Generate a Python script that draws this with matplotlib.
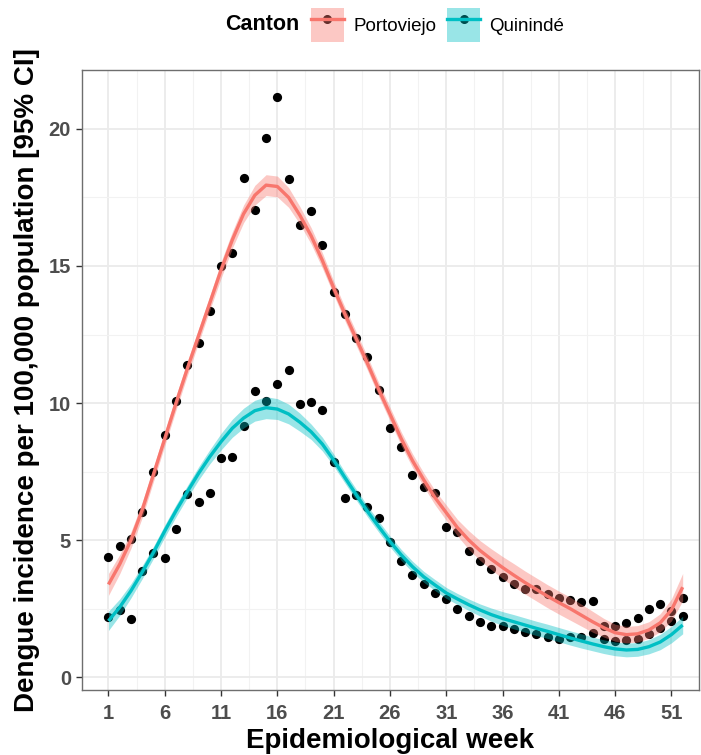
import matplotlib.pyplot as plt
from matplotlib.patches import Patch
from matplotlib.lines import Line2D
from matplotlib.legend_handler import HandlerTuple
from matplotlib.ticker import MultipleLocator, FixedLocator

plt.rcParams['font.family'] = ['Liberation Sans', 'DejaVu Sans']

weeks = list(range(1, 53))
week_ticks = [1, 6, 11, 16, 21, 26, 31, 36, 41, 46, 51]
cantons = ["Portoviejo", "Quinindé"]
colors = ["#F8766D", "#00BFC4"]

# observed weekly incidence
porto_obs = [4.40, 4.79, 5.03, 6.04, 7.49, 8.85, 10.07, 11.39, 12.18, 13.36,
             15.00, 15.48, 18.20, 17.03, 19.66, 21.16, 18.16, 16.48, 17.00, 15.75,
             14.04, 13.26, 12.39, 11.67, 10.47, 9.10, 8.38, 7.39, 6.95, 6.70,
             5.46, 5.28, 4.60, 4.25, 3.95, 3.64, 3.39, 3.22, 3.21, 3.02,
             2.87, 2.81, 2.73, 2.79, 1.86, 1.86, 1.98, 2.14, 2.47, 2.66,
             2.42, 2.87]
quin_obs = [2.19, 2.45, 2.12, 3.86, 4.54, 4.35, 5.41, 6.68, 6.40, 6.73,
            7.98, 8.04, 9.15, 10.44, 10.08, 10.68, 11.19, 9.98, 10.05, 9.73,
            7.86, 6.54, 6.64, 6.21, 5.81, 4.94, 4.22, 3.72, 3.41, 3.07,
            2.86, 2.48, 2.22, 2.02, 1.87, 1.87, 1.76, 1.65, 1.56, 1.47,
            1.39, 1.45, 1.47, 1.62, 1.38, 1.31, 1.35, 1.38, 1.57, 1.78,
            2.04, 2.23]

# smoothed fit and half width of the 95% CI
porto_fit = [3.38, 4.12, 5.00, 6.10, 7.40, 8.70, 10.00, 11.25, 12.45, 13.65,
             14.85, 15.95, 16.90, 17.58, 17.95, 17.90, 17.50, 16.85, 16.10, 15.20,
             14.20, 13.25, 12.35, 11.45, 10.50, 9.60, 8.70, 7.90, 7.20, 6.55,
             6.00, 5.45, 5.00, 4.62, 4.30, 4.00, 3.72, 3.45, 3.20, 2.95,
             2.72, 2.50, 2.26, 2.02, 1.80, 1.62, 1.55, 1.58, 1.72, 1.98,
             2.45, 3.28]
porto_ci = [0.40, 0.35, 0.30, 0.28, 0.26, 0.26, 0.26, 0.26, 0.26, 0.26,
            0.30, 0.30, 0.32, 0.36, 0.38, 0.38, 0.36, 0.32, 0.30, 0.28,
            0.25, 0.25, 0.25, 0.25, 0.25, 0.25, 0.25, 0.25, 0.25, 0.26,
            0.28, 0.30, 0.34, 0.36, 0.38, 0.40, 0.42, 0.42, 0.42, 0.42,
            0.42, 0.42, 0.40, 0.38, 0.34, 0.31, 0.30, 0.30, 0.30, 0.33,
            0.40, 0.50]
quin_fit = [2.05, 2.55, 3.15, 3.83, 4.55, 5.33, 6.07, 6.76, 7.43, 8.04,
            8.59, 9.08, 9.45, 9.72, 9.83, 9.78, 9.60, 9.30, 8.95, 8.50,
            7.92, 7.28, 6.66, 6.05, 5.49, 4.95, 4.46, 4.03, 3.66, 3.36,
            3.07, 2.85, 2.64, 2.45, 2.28, 2.14, 2.02, 1.90, 1.78, 1.67,
            1.55, 1.43, 1.32, 1.21, 1.11, 1.03, 0.99, 1.01, 1.11, 1.28,
            1.55, 1.90]
quin_ci = [0.35, 0.30, 0.26, 0.24, 0.22, 0.22, 0.22, 0.22, 0.24, 0.26,
           0.30, 0.33, 0.36, 0.38, 0.40, 0.38, 0.36, 0.33, 0.28, 0.25,
           0.22, 0.20, 0.20, 0.20, 0.20, 0.20, 0.20, 0.20, 0.20, 0.20,
           0.20, 0.20, 0.21, 0.22, 0.24, 0.25, 0.26, 0.26, 0.26, 0.26,
           0.26, 0.26, 0.26, 0.25, 0.25, 0.25, 0.25, 0.25, 0.26, 0.28,
           0.30, 0.32]

fig = plt.figure(figsize=(7.01, 7.55), dpi=100)
ax = fig.add_axes([82 / 701, 1 - 690 / 755, (699 - 82) / 701, (690 - 70) / 755])

# points go under the smooth ribbons, like geom_point before geom_smooth
for obs in (porto_obs, quin_obs):
    ax.scatter(weeks, obs, s=44, color="black", zorder=2, linewidths=0)

for fit, ci, col in zip((porto_fit, quin_fit), (porto_ci, quin_ci), colors):
    lo = [f - c for f, c in zip(fit, ci)]
    hi = [f + c for f, c in zip(fit, ci)]
    ax.fill_between(weeks, lo, hi, color=col, alpha=0.4, linewidth=0, zorder=3)
    ax.plot(weeks, fit, color=col, lw=2.4, zorder=4, solid_capstyle="butt",
            solid_joinstyle="round")

ax.set_xlim(-1.35, 53.45)
ax.set_ylim(-0.47, 22.15)
ax.xaxis.set_major_locator(FixedLocator(week_ticks))
ax.xaxis.set_minor_locator(FixedLocator([w + 2.5 for w in [-4] + week_ticks]))
ax.yaxis.set_major_locator(MultipleLocator(5))
ax.yaxis.set_minor_locator(MultipleLocator(2.5))

ax.set_axisbelow(True)
ax.grid(which="major", color="#EBEBEB", lw=1.3)
ax.grid(which="minor", color="#F2F2F2", lw=0.8)
for sp in ax.spines.values():
    sp.set_color("#6E6E6E")
    sp.set_linewidth(1.0)

ax.tick_params(which="major", length=4, width=1, color="#333333",
               labelcolor="#4D4D4D", labelsize=14.5, pad=4)
ax.tick_params(axis="x", which="major", pad=6)
ax.tick_params(which="minor", length=0)
for lab in ax.get_xticklabels() + ax.get_yticklabels():
    lab.set_fontweight("bold")

ax.set_xlabel("Epidemiological week", fontsize=20, fontweight="bold", labelpad=4)
ax.set_ylabel("Dengue incidence per 100,000 population [95% CI]",
              fontsize=20, fontweight="bold", labelpad=6)

# legend on top with the title to the left
handles = []
for col in colors:
    dot = Line2D([], [], ls="none", marker="o", markersize=5.5, color="black")
    box = Patch(facecolor=col, alpha=0.4, edgecolor="none")
    line = Line2D([], [], color=col, lw=2.4)
    handles.append((dot, box, line))

fig.text(225 / 701, 1 - 25 / 755, "Canton", fontsize=15.5, fontweight="bold",
         va="center", ha="left")
fig.legend(handles, cantons, handler_map={tuple: HandlerTuple(ndivide=1, pad=0)},
           loc="center left", bbox_to_anchor=(311 / 701, 1 - 25 / 755), ncol=2,
           frameon=False, fontsize=13.5, handlelength=1.75, handleheight=2.4,
           handletextpad=0.5, columnspacing=0.6, borderpad=0, borderaxespad=0)

fig.savefig("out.png", dpi=100)
